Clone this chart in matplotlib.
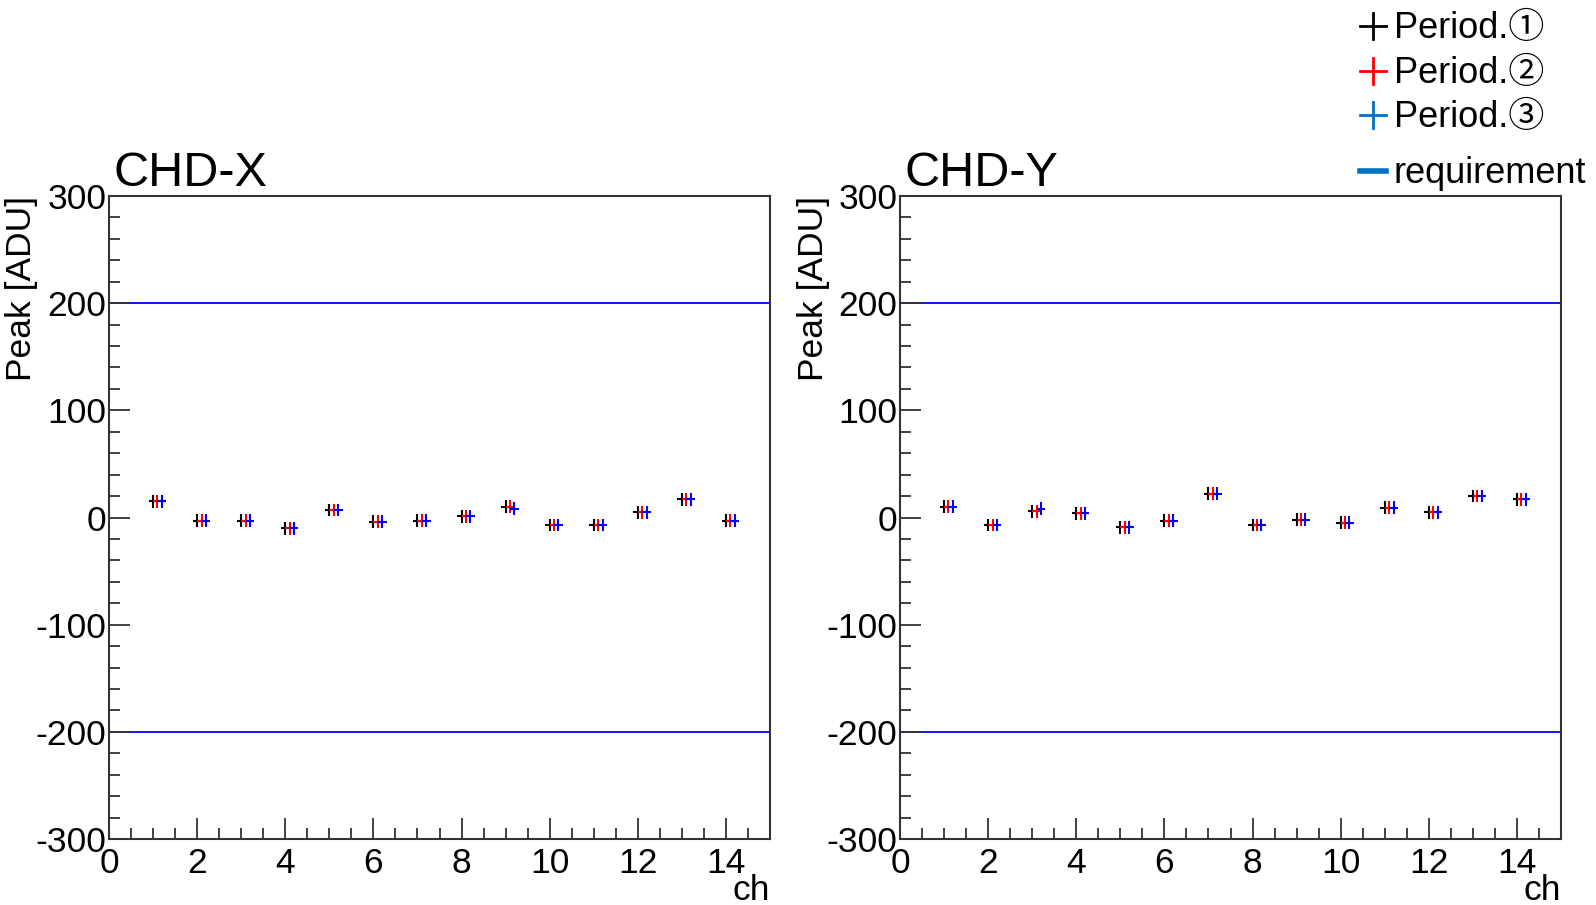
import matplotlib
matplotlib.use("Agg")
import matplotlib.pyplot as plt
from matplotlib.lines import Line2D
from matplotlib.ticker import MultipleLocator
import numpy as np

# ---------------- data ----------------
channels = [1, 2, 3, 4, 5, 6, 7, 8, 9, 10, 11, 12, 13, 14]
periods = ["Period.①", "Period.②", "Period.③"]

chdx_p1 = [15, -3, -3, -10, 7, -4, -3, 1, 10, -7, -7, 5, 17, -3]
chdx_p2 = [15, -3, -3, -10, 7, -4, -3, 1, 10, -7, -7, 5, 17, -3]
chdx_p3 = [15, -3, -3, -10, 7, -4, -3, 1, 8, -7, -7, 5, 17, -3]

chdy_p1 = [10, -7, 6, 4, -9, -3, 22, -7, -2, -5, 9, 5, 20, 17]
chdy_p2 = [10, -7, 6, 4, -9, -3, 22, -7, -2, -5, 9, 5, 20, 17]
chdy_p3 = [10, -7, 8, 4, -9, -3, 22, -7, -2, -5, 9, 5, 20, 17]

peak_err = 6.0          # vertical bar half-size [ADU]
ch_err = 0.1            # horizontal bar half-size [ch]
requirement = [200, -200]

panel_titles = ["CHD-X", "CHD-Y"]
panels = [[chdx_p1, chdx_p2, chdx_p3], [chdy_p1, chdy_p2, chdy_p3]]

# ---------------- style ----------------
W, H = 1596, 905
DPI = 100
FONT = ["Liberation Sans", "Noto Sans CJK JP", "DejaVu Sans"]
plt.rcParams["font.family"] = FONT

data_colors = ["#000000", "#ff0000", "#0000ff"]
legend_colors = ["#000000", "#ff0000", "#0070c0"]
offsets = [0.0, 0.1, 0.2]

fig = plt.figure(figsize=(W / DPI, H / DPI), dpi=DPI)

def fx(px):
    return px / W

def fy(py):
    return 1 - py / H

ax_left_px = [109, 900]
ax_w_px = 661
ax_top_px, ax_bot_px = 196, 839

for i in range(2):
    ax = fig.add_axes([fx(ax_left_px[i]), fy(ax_bot_px),
                       ax_w_px / W, (ax_bot_px - ax_top_px) / H])
    ax.set_xlim(0, 15)
    ax.set_ylim(-300, 300)
    for r in requirement:
        ax.axhline(r, color="#0000ff", lw=1.3, zorder=1)
    for k, vals in enumerate(panels[i]):
        x = np.array(channels, dtype=float) + offsets[k]
        ax.errorbar(x, vals, xerr=ch_err, yerr=peak_err, fmt="none",
                    ecolor=data_colors[k], elinewidth=1.5, capsize=0, zorder=3)
    for s in ax.spines.values():
        s.set_linewidth(1.5)
        s.set_color("#333333")
    ax.xaxis.set_major_locator(MultipleLocator(2))
    ax.xaxis.set_minor_locator(MultipleLocator(0.5))
    ax.yaxis.set_major_locator(MultipleLocator(100))
    ax.yaxis.set_minor_locator(MultipleLocator(20))
    ax.tick_params(which="both", direction="in", top=False, right=False,
                   width=1.3, color="#333333")
    ax.tick_params(axis="y", which="major", length=15, pad=2, labelsize=25.5)
    ax.tick_params(axis="y", which="minor", length=8)
    ax.tick_params(axis="x", which="major", length=15, pad=6, labelsize=25.5)
    ax.tick_params(axis="x", which="minor", length=8)
    ax.set_xticks(range(0, 15, 2))
    ax.set_yticks(range(-300, 301, 100))
    ax.set_yticklabels([str(v) for v in range(-300, 301, 100)])

    # title
    fig.text(fx(ax_left_px[i] + 5), fy(186), panel_titles[i],
             fontsize=35, ha="left", va="baseline")
    # y label
    ylab_x = [22, 814][i]
    fig.text(fx(ylab_x), fy(ax_top_px), "Peak [ADU]", rotation=90,
             fontsize=25.5, ha="center", va="top")
    # x label
    fig.text(fx(ax_left_px[i] + ax_w_px), fy(900), "ch",
             fontsize=25.5, ha="right", va="baseline")

# ---------------- legend ----------------
leg_sym_x = 1373
leg_txt_x = 1394
row_centers = [26, 71, 115]
row_baselines = [38, 83, 127]
half = 13
for k in range(3):
    yc = row_centers[k]
    fig.add_artist(Line2D([fx(leg_sym_x - half), fx(leg_sym_x + half)],
                          [fy(yc), fy(yc)], color=legend_colors[k], lw=2,
                          transform=fig.transFigure))
    fig.add_artist(Line2D([fx(leg_sym_x), fx(leg_sym_x)],
                          [fy(yc - half), fy(yc + half)], color=legend_colors[k], lw=2,
                          transform=fig.transFigure))
    fig.text(fx(leg_txt_x), fy(row_baselines[k]), periods[k], fontsize=26,
             ha="left", va="baseline")

fig.add_artist(Line2D([fx(leg_sym_x - half), fx(leg_sym_x + half)],
                      [fy(171), fy(171)], color="#0070c0", lw=4,
                      transform=fig.transFigure))
fig.text(fx(leg_txt_x), fy(183), "requirement", fontsize=26,
         ha="left", va="baseline")

fig.savefig("out.png", dpi=DPI)
